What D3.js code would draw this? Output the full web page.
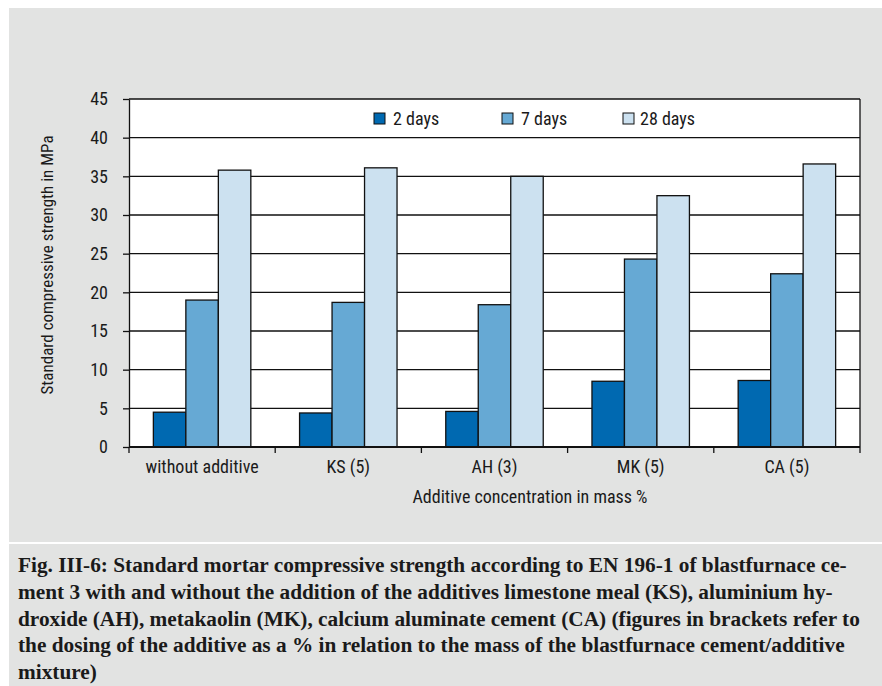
<!DOCTYPE html>
<html>
<head>
<meta charset="utf-8">
<script src="https://cdn.jsdelivr.net/npm/d3@7"></script>
<style>
  html, body { margin: 0; background: #fff; overflow: hidden; }
  svg { display: block; }
  svg text { fill: #1a1a1a; }
  .cond { font-family: "Liberation Sans Narrow", "Roboto Condensed", "DejaVu Sans Condensed", sans-serif; }
  .cap { font-family: "Liberation Serif", "Times New Roman", serif; font-weight: bold; }
</style>
</head>
<body>
<svg id="drawing_region"></svg>
<script>
// data
var categories = ['without additive', 'KS (5)', 'AH (3)', 'MK (5)', 'CA (5)'];
var series = ['2 days', '7 days', '28 days'];
var days2 = [4.5, 4.4, 4.6, 8.5, 8.6];
var days7 = [19.0, 18.7, 18.4, 24.3, 22.4];
var days28 = [35.8, 36.1, 35.0, 32.5, 36.6];
var yticks = [0, 5, 10, 15, 20, 25, 30, 35, 40, 45];
var colors = ['#0069b1', '#66a9d4', '#cce1f0'];
var caption = [
  'Fig. III-6: Standard mortar compressive strength according to EN 196-1 of blastfurnace ce-',
  'ment 3 with and without the addition of the additives limestone meal (KS), aluminium hy-',
  'droxide (AH), metakaolin (MK), calcium aluminate cement (CA) (figures in brackets refer to',
  'the dosing of the additive as a % in relation to the mass of the blastfurnace cement/additive',
  'mixture)'
];

var width = 882;
var height = 686;
var margin = {top:99, right:22, bottom:239, left:129};

var svg = d3.select('#drawing_region')
    .attr('width', width)
    .attr('height', height);

// grey panels
svg.append('rect').attr('x', 9).attr('y', 8).attr('width', width - 9).attr('height', height - 8)
    .attr('fill', '#e2e3e2');
svg.append('rect').attr('x', 9).attr('y', 542).attr('width', width - 9).attr('height', 2)
    .attr('fill', '#fff');

var chart = svg.append('g')
    .attr('transform', `translate(${margin.left}, ${margin.top})`);

const inner_width = width - margin.left - margin.right;
const inner_height = height - margin.top - margin.bottom;

var table = categories.map((c, i) => ({label: c, values: [days2[i], days7[i], days28[i]]}));

const xscale = d3.scaleBand()
      .domain(categories)
      .range([0, inner_width]);

const xinner = d3.scaleBand()
      .domain(series)
      .range([0, xscale.bandwidth()])
      .paddingOuter(0.75);

const yscale = d3.scaleLinear()
      .domain([0, 45])
      .range([inner_height, 0]);

chart.append('rect')
    .attr('width', inner_width).attr('height', inner_height)
    .attr('fill', '#fff');

// grid
chart.selectAll('.grid').data(yticks.slice(1)).enter()
    .append('line')
    .attr('x1', 0).attr('x2', inner_width)
    .attr('y1', d => yscale(d)).attr('y2', d => yscale(d))
    .attr('stroke', '#111').attr('stroke-width', 1.3);

chart.append('line')
    .attr('x1', inner_width).attr('x2', inner_width)
    .attr('y1', 0).attr('y2', inner_height)
    .attr('stroke', '#111').attr('stroke-width', 1.3);

// bars
var groups = chart.selectAll('.grp').data(table).enter()
    .append('g')
    .attr('transform', d => `translate(${xscale(d.label)}, 0)`);

groups.selectAll('rect').data(d => d.values.map((v, j) => ({s: series[j], v: v, j: j}))).enter()
    .append('rect')
    .attr('x', d => xinner(d.s))
    .attr('y', d => yscale(d.v))
    .attr('width', xinner.bandwidth())
    .attr('height', d => inner_height - yscale(d.v))
    .attr('fill', d => colors[d.j])
    .attr('stroke', '#111').attr('stroke-width', 1.3);

// axes
const xaxis = d3.axisBottom(xscale).tickSize(6).tickSizeOuter(6).tickFormat('');
const yaxis = d3.axisLeft(yscale).tickValues(yticks).tickSize(6).tickSizeOuter(0);

const xaxis_group = chart.append('g')
      .attr('transform', `translate(0, ${inner_height})`)
      .call(xaxis);
// ticks sit on the band edges, not the centres
xaxis_group.selectAll('.tick').remove();
xaxis_group.selectAll('.edge').data(categories.concat(['end'])).enter()
    .append('line')
    .attr('x1', (d, i) => i * xscale.step()).attr('x2', (d, i) => i * xscale.step())
    .attr('y1', 0).attr('y2', 6)
    .attr('stroke', '#111').attr('stroke-width', 1.3);
xaxis_group.select('.domain').attr('d', `M0,0H${inner_width}`).attr('stroke', '#111').attr('stroke-width', 2);

xaxis_group.selectAll('.lbl').data(categories).enter()
    .append('text')
    .attr('class', 'cond')
    .attr('x', d => xscale(d) + xscale.bandwidth() / 2)
    .attr('y', 26)
    .attr('text-anchor', 'middle')
    .attr('font-size', 18)
    .text(d => d);

const yaxis_group = chart.append('g').call(yaxis);
yaxis_group.select('.domain').attr('stroke', '#111').attr('stroke-width', 1.3);
yaxis_group.selectAll('.tick line').attr('stroke', '#111').attr('stroke-width', 1.3);
yaxis_group.selectAll('.tick text')
    .attr('class', 'cond')
    .attr('x', -21)
    .attr('font-size', 18)
    .attr('fill', '#1a1a1a');

// axis titles
svg.append('text')
    .attr('class', 'cond')
    .attr('transform', 'translate(53, 265) rotate(-90)')
    .attr('text-anchor', 'middle')
    .attr('font-size', 17)
    .text('Standard compressive strength in MPa');

svg.append('text')
    .attr('class', 'cond')
    .attr('x', 530).attr('y', 503)
    .attr('text-anchor', 'middle')
    .attr('font-size', 18)
    .text('Additive concentration in mass %');

// legend
var legendX = [374, 502, 623];
var legend = svg.selectAll('.leg').data(series).enter()
    .append('g')
    .attr('transform', (d, i) => `translate(${legendX[i]}, 113)`);
legend.append('rect')
    .attr('width', 11).attr('height', 11)
    .attr('fill', (d, i) => colors[i])
    .attr('stroke', '#111').attr('stroke-width', 1);
legend.append('text')
    .attr('class', 'cond')
    .attr('x', (d, i) => i == 2 ? 17 : 19).attr('y', 12)
    .attr('font-size', 18)
    .text(d => d);

// caption
svg.selectAll('.capline').data(caption).enter()
    .append('text')
    .attr('class', 'cap')
    .attr('x', 18)
    .attr('y', (d, i) => 572 + i * 26.8)
    .attr('font-size', 21.3)
    .text(d => d);
</script>
</body>
</html>
